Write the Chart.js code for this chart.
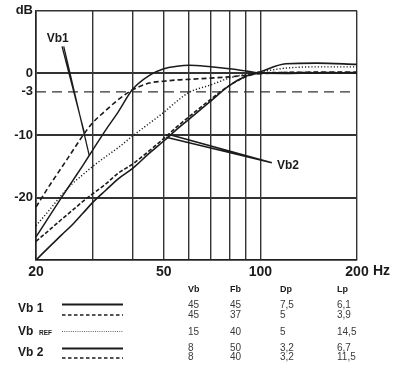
<!DOCTYPE html>
<html>
<head>
<meta charset="utf-8">
<script src="https://cdn.jsdelivr.net/npm/chart.js@4.4.1/dist/chart.umd.min.js"></script>
<style>
html, body { margin: 0; padding: 0; background: #fff; }
#wrap { width: 399px; height: 365px; }
</style>
</head>
<body>
<div id="wrap"><canvas id="response" width="399" height="365"></canvas></div>
<script>
// frequency points (Hz) and levels (dB)
const freqs    = [20, 22, 24, 26, 28, 30, 33, 36, 40, 45, 50, 55, 60, 70, 80, 90, 100, 120, 150, 200];
const vb1Solid = [-26.3, -23.0, -20.0, -17.3, -14.8, -12.4, -9.1, -6.3, -2.6, -0.4, 0.7, 1.1, 1.25, 1.0, 0.7, 0.35, 0.0, -0.05, 0.0, 0.0];
const vb1Dash  = [-21.5, -18.1, -15.2, -12.5, -10.0, -8.0, -6.0, -4.3, -2.7, -1.6, -1.3, -1.1, -1.0, -0.8, -0.6, -0.35, -0.1, 0.1, 0.15, 0.15];
const vbRef    = [-24.5, -22.0, -19.6, -17.7, -16.3, -15.0, -13.4, -12.0, -10.1, -8.1, -6.3, -4.5, -3.1, -1.9, -0.8, -0.2, 0.2, 0.8, 1.0, 1.0];
const vb2Solid = [-30.0, -27.9, -26.0, -24.3, -22.5, -20.8, -18.8, -17.0, -15.3, -12.9, -10.9, -9.0, -7.4, -4.5, -2.0, -0.5, 0.2, 1.5, 1.6, 1.4];
const vb2Dash  = [-27.0, -25.2, -23.5, -22.0, -20.6, -19.4, -17.8, -16.1, -14.6, -12.5, -10.5, -8.6, -7.0, -4.2, -2.0, -0.6, 0.0, 0.1, 0.1, 0.1];
const refLevel = -3;

const xTicks = [20, 30, 40, 50, 60, 70, 80, 90, 100, 200];
const xLabels = { 20: '20', 50: '50', 100: '100', 200: '200' };
const yTicks = [10, 0, -3, -10, -20, -30];
const yLabels = { 10: 'dB', 0: '0', '-3': '-3', '-10': '-10', '-20': '-20' };

const tableHead = ['Vb', 'Fb', 'Dp', 'Lp'];
const tableRows = [
  ['45', '45', '7,5', '6,1'],
  ['45', '37', '5', '3,9'],
  ['15', '40', '5', '14,5'],
  ['8', '50', '3,2', '6,7'],
  ['8', '40', '3,2', '11,5']
];

const ink = '#1b1b1b';
const face = 'Liberation Sans';
const pts = vals => freqs.map((f, i) => ({ x: f, y: vals[i] }));
const curve = (label, vals, dash, width) => ({
  label, data: pts(vals), borderColor: ink, borderWidth: width, borderDash: dash,
  pointRadius: 0, fill: false, cubicInterpolationMode: 'monotone'
});

const notes = {
  id: 'notes',
  afterDatasetsDraw(chart) {
    const { ctx, scales: { x, y } } = chart;
    const X = f => x.getPixelForValue(f), Y = d => y.getPixelForValue(d);
    ctx.save();
    ctx.strokeStyle = ink;
    ctx.lineWidth = 1.3;
    ctx.setLineDash([]);
    // Vb1 pointers
    ctx.beginPath();
    ctx.moveTo(X(24.1), Y(4.3)); ctx.lineTo(X(28.3), Y(-9.6));
    ctx.moveTo(X(24.4), Y(4.3)); ctx.lineTo(X(29.3), Y(-13.2));
    ctx.stroke();
    // Vb2 pointers
    ctx.lineWidth = 1.6;
    ctx.beginPath();
    ctx.moveTo(X(108.6), Y(-14.4)); ctx.lineTo(X(52.3), Y(-9.9));
    ctx.moveTo(X(108.6), Y(-14.4)); ctx.lineTo(X(50.9), Y(-10.3));
    ctx.stroke();
    ctx.fillStyle = ink;
    ctx.font = 'bold 12px ' + face;
    ctx.textBaseline = 'middle';
    ctx.textAlign = 'left';
    ctx.fillText('Vb1', X(21.6), Y(5.5));
    ctx.fillText('Vb2', X(112.6), Y(-14.9));
    ctx.restore();
  },
  afterDraw(chart) {
    const { ctx, scales: { x } } = chart;
    ctx.save();
    ctx.fillStyle = ink;
    ctx.textBaseline = 'middle';
    ctx.font = 'bold 14px ' + face;
    ctx.textAlign = 'left';
    ctx.fillText('Hz', x.getPixelForValue(200) + 16, 271);

    // parameter table below the axis
    const cols = [188, 230, 280, 337];
    const rowY = [305.5, 315.5, 332, 348, 357.5];
    ctx.font = 'bold 9px ' + face;
    tableHead.forEach((h, i) => ctx.fillText(h, cols[i], 290));
    ctx.font = '10px ' + face;
    ctx.fillStyle = '#3a3a3a';
    tableRows.forEach((r, j) => r.forEach((v, i) => ctx.fillText(v, cols[i], rowY[j])));

    ctx.fillStyle = ink;
    ctx.font = 'bold 12px ' + face;
    ctx.fillText('Vb 1', 18, 309);
    ctx.fillText('Vb', 18, 332);
    ctx.fillText('Vb 2', 18, 353);
    ctx.font = 'bold 6.5px ' + face;
    ctx.fillText('REF', 39, 333);

    const sample = (yy, dash, w, col) => {
      ctx.beginPath();
      ctx.strokeStyle = col; ctx.lineWidth = w; ctx.setLineDash(dash);
      ctx.moveTo(62, yy); ctx.lineTo(123, yy); ctx.stroke();
    };
    sample(304.5, [], 1.8, ink);
    sample(315, [3.5, 2.5], 1.4, ink);
    sample(331.5, [1, 1.2], 1, '#666');
    sample(348.5, [], 1.8, ink);
    sample(358, [3.5, 2.5], 1.4, ink);
    ctx.restore();
  }
};

new Chart(document.getElementById('response'), {
  type: 'line',
  data: {
    datasets: [
      { label: '-3 dB', data: [{ x: 20, y: refLevel }, { x: 200, y: refLevel }], borderColor: '#333',
        borderWidth: 1.3, borderDash: [10, 6], pointRadius: 0 },
      curve('Vb 1 / Fb 45', vb1Solid, [], 1.5),
      curve('Vb 1 / Fb 37', vb1Dash, [5, 3], 1.6),
      curve('Vb REF', vbRef, [1.2, 2], 1.4),
      curve('Vb 2 / Fb 50', vb2Solid, [], 1.6),
      curve('Vb 2 / Fb 40', vb2Dash, [4, 2], 1.6)
    ]
  },
  options: {
    responsive: false,
    animation: false,
    layout: { padding: { top: 7, right: 42, left: 0, bottom: 0 } },
    plugins: { legend: { display: false }, tooltip: { enabled: false } },
    scales: {
      x: {
        type: 'logarithmic', min: 20, max: 200,
        afterBuildTicks: s => { s.ticks = xTicks.map(v => ({ value: v })); },
        afterFit: s => { s.height = 105; },
        ticks: { autoSkip: false, maxRotation: 0, padding: 4, color: ink,
          font: { family: face, size: 14, weight: 'bold' }, callback: v => xLabels[v] || '' },
        grid: { color: '#333', lineWidth: 1.4, drawTicks: false },
        border: { color: '#222', width: 1.6 }
      },
      y: {
        min: -30, max: 10,
        afterBuildTicks: s => { s.ticks = yTicks.map(v => ({ value: v })); },
        afterFit: s => { s.width = 36; },
        ticks: { autoSkip: false, padding: 3, color: ink,
          font: { family: face, size: 13, weight: 'bold' }, callback: v => yLabels[v] ?? '' },
        grid: {
          drawTicks: false,
          color: c => (c.tick && c.tick.value === refLevel) ? 'rgba(0,0,0,0)' : '#333',
          lineWidth: c => (c.tick && [0, -10, -20].includes(c.tick.value)) ? 2 : 1.4
        },
        border: { color: '#222', width: 1.6 }
      }
    }
  },
  plugins: [notes]
});
</script>
</body>
</html>
